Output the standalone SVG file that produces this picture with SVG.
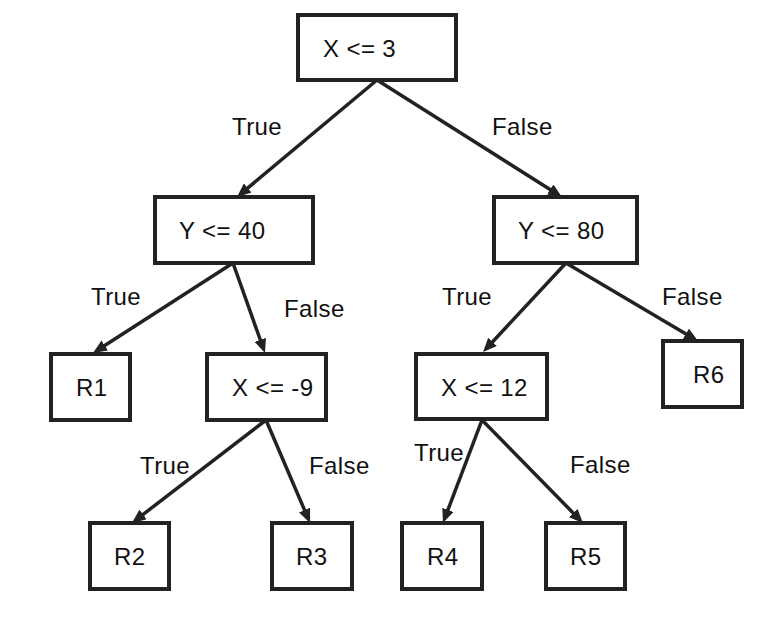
<svg xmlns="http://www.w3.org/2000/svg" width="774" height="630" viewBox="0 0 774 630">
<style>
.box{fill:#fff;stroke:#222;stroke-width:4}
.t{font-family:"Liberation Sans",Arial,sans-serif;font-size:24px;letter-spacing:0.4px;fill:#111}
.e{stroke:#222;stroke-width:3.5;fill:none;marker-end:url(#ah)}
</style>
<defs>
<marker id="ah" markerUnits="userSpaceOnUse" markerWidth="14" markerHeight="12" refX="6" refY="6" orient="auto">
<path d="M0,0 L14,6 L0,12 Z" fill="#222"/>
</marker>
</defs>
<rect width="774" height="630" fill="#fff"/>
<g id="connectors">
<line class="e" x1="377" y1="80" x2="243.1" y2="191.9"/>
<line class="e" x1="377" y1="80" x2="555.2" y2="192.7"/>
<line class="e" x1="233" y1="263" x2="99.7" y2="348.7"/>
<line class="e" x1="233" y1="263" x2="262.3" y2="345.5"/>
<line class="e" x1="566" y1="263" x2="488.5" y2="346.2"/>
<line class="e" x1="566" y1="263" x2="691.1" y2="336.9"/>
<line class="e" x1="266" y1="420" x2="138.3" y2="518.1"/>
<line class="e" x1="266" y1="420" x2="306.9" y2="515.6"/>
<line class="e" x1="482" y1="420" x2="445.8" y2="515.5"/>
<line class="e" x1="482" y1="420" x2="577.4" y2="517.3"/>
<text class="t" x="232" y="135">True</text>
<text class="t" x="492" y="135">False</text>
<text class="t" x="91" y="305">True</text>
<text class="t" x="284" y="317">False</text>
<text class="t" x="442" y="305">True</text>
<text class="t" x="662" y="305">False</text>
<text class="t" x="140" y="474">True</text>
<text class="t" x="309" y="474">False</text>
<text class="t" x="414" y="461">True</text>
<text class="t" x="570" y="473">False</text>
</g>
<g id="n_root"><rect class="box" x="298" y="15" width="158" height="65"/><text class="t" x="323" y="57">X &lt;= 3</text></g>
<g id="n_y40"><rect class="box" x="155" y="197" width="158" height="66"/><text class="t" x="179" y="239">Y &lt;= 40</text></g>
<g id="n_y80"><rect class="box" x="494" y="197" width="143" height="66"/><text class="t" x="518" y="239">Y &lt;= 80</text></g>
<g id="n_r1"><rect class="box" x="51" y="354" width="79" height="66"/><text class="t" x="76" y="396">R1</text></g>
<g id="n_xm9"><rect class="box" x="207" y="354" width="119" height="66"/><text class="t" x="232" y="396">X &lt;= -9</text></g>
<g id="n_x12"><rect class="box" x="416" y="354" width="131" height="65"/><text class="t" x="441" y="396">X &lt;= 12</text></g>
<g id="n_r6"><rect class="box" x="663" y="341" width="79" height="66"/><text class="t" x="693" y="383">R6</text></g>
<g id="n_r2"><rect class="box" x="90" y="523" width="79" height="66"/><text class="t" x="114" y="565">R2</text></g>
<g id="n_r3"><rect class="box" x="272" y="523" width="80" height="66"/><text class="t" x="296" y="565">R3</text></g>
<g id="n_r4"><rect class="box" x="402" y="523" width="80" height="66"/><text class="t" x="427" y="565">R4</text></g>
<g id="n_r5"><rect class="box" x="546" y="523" width="79" height="66"/><text class="t" x="570" y="565">R5</text></g>
</svg>
